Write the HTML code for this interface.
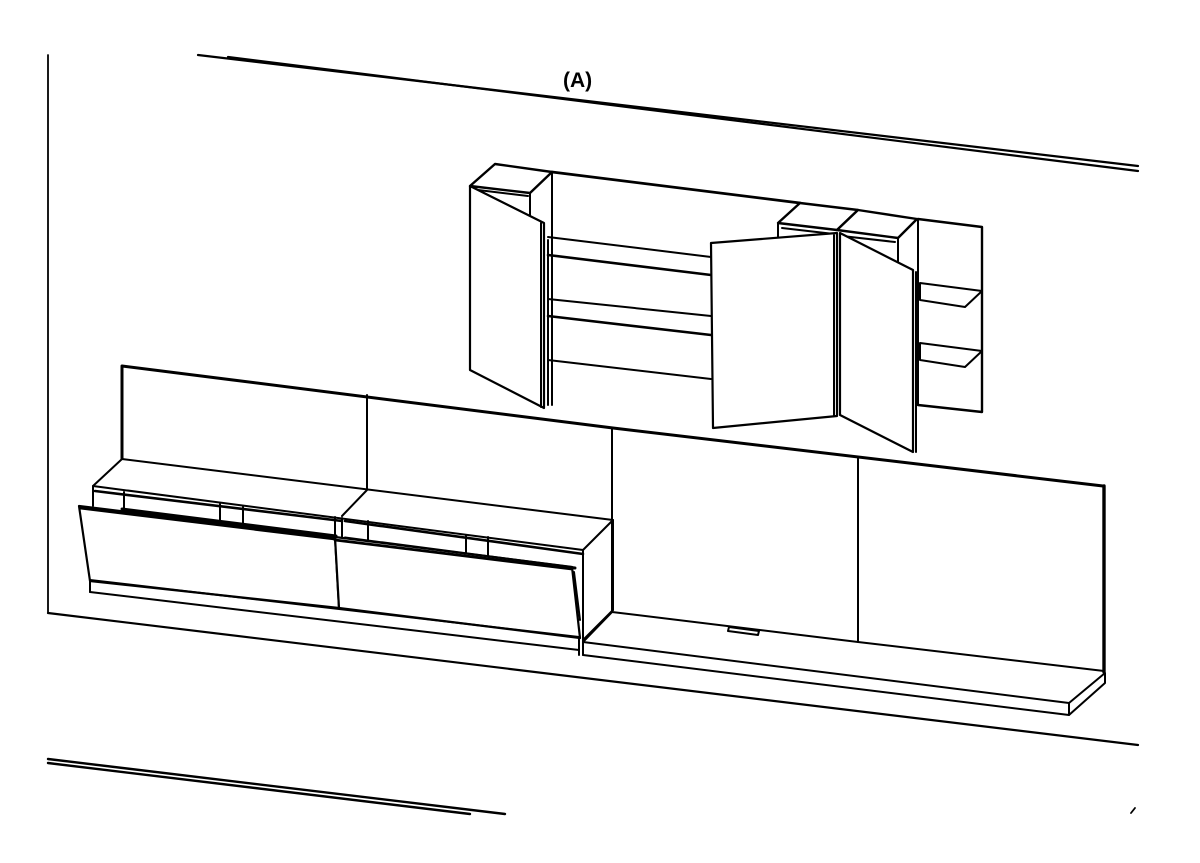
<!DOCTYPE html>
<html><head><meta charset="utf-8"><style>
html,body{margin:0;padding:0;background:#fff;}
svg{display:block;}
</style></head><body>
<svg width="1200" height="863" viewBox="0 0 1200 863" xmlns="http://www.w3.org/2000/svg">
<rect width="1200" height="863" fill="#fff"/>
<g fill="none" stroke="#000" stroke-width="2" stroke-linejoin="round" stroke-linecap="round">
<!-- frame -->
<line x1="48" y1="55" x2="48" y2="612" stroke-width="1.8"/>
<line x1="198" y1="55" x2="1138" y2="166" stroke-width="2.2"/>
<line x1="228" y1="57" x2="1138" y2="171" stroke-width="2.2"/>
<line x1="48" y1="613" x2="1138" y2="745" stroke-width="2.2"/>
<line x1="48" y1="759" x2="505" y2="814" stroke-width="2.4"/>
<line x1="48" y1="763" x2="470" y2="814" stroke-width="2.4"/>
<line x1="1131" y1="813" x2="1135" y2="808" stroke-width="1.8"/>

<!-- upper cabinet back panel -->
<line x1="552" y1="172" x2="800" y2="203" stroke-width="2.8"/>
<polyline points="918,219 982,227 982,412 918,405" stroke-width="2.4"/>
<line x1="918" y1="219" x2="918" y2="405"/>
<!-- left block -->
<polygon points="470,186 495,164 552,172 530,193" fill="#fff" stroke-width="2.4"/>
<line x1="530" y1="193" x2="530" y2="215"/>
<line x1="552" y1="172" x2="552" y2="405"/>
<line x1="548" y1="240" x2="548" y2="405"/>
<line x1="478" y1="190" x2="528" y2="196"/>
<!-- shelves -->
<line x1="548" y1="237" x2="711" y2="257"/>
<line x1="548" y1="255" x2="711" y2="275" stroke-width="2.6"/>
<line x1="548" y1="299" x2="711" y2="316"/>
<line x1="548" y1="316" x2="711" y2="335" stroke-width="2.6"/>
<line x1="548" y1="360" x2="711" y2="379"/>
<!-- left door -->
<polygon points="470,186 544,223 544,408 470,370" fill="#fff" stroke-width="2.2"/>
<line x1="541" y1="223" x2="541" y2="407"/>
<!-- top blocks -->
<polygon points="778,223 800,203 858,210 837,230" fill="#fff" stroke-width="2.4"/>
<polygon points="837,230 858,210 917,219 898,238" fill="#fff" stroke-width="2.4"/>
<line x1="778" y1="223" x2="778" y2="238"/>
<line x1="898" y1="238" x2="898" y2="265"/>
<line x1="782" y1="228" x2="834" y2="234"/>
<line x1="842" y1="236" x2="895" y2="242"/>
<!-- right shelves -->
<polygon points="920,283 982,291 965,307 920,300" fill="#fff"/>
<polygon points="920,343 982,351 965,367 920,360" fill="#fff"/>
<!-- center door -->
<polygon points="711,243 837,233 837,416 713,428" fill="#fff" stroke-width="2.2"/>
<!-- right door -->
<polygon points="840,233 913,270 913,452 840,415" fill="#fff" stroke-width="2.2"/>
<line x1="916" y1="272" x2="916" y2="452"/>
<line x1="834" y1="235" x2="834" y2="416"/>

<!-- lower back panel -->
<polyline points="122,459 122,366 613,428 1103,486" stroke-width="3"/>
<line x1="367" y1="395" x2="367" y2="489"/>
<line x1="612" y1="428" x2="612" y2="612"/>
<line x1="858" y1="458" x2="858" y2="642"/>
<line x1="1104" y1="486" x2="1104" y2="672" stroke-width="3.4"/>
<!-- right base -->
<polyline points="612,612 858,642 1104,671"/>
<line x1="583" y1="642" x2="612" y2="612"/>
<line x1="583" y1="642" x2="1069" y2="703"/>
<line x1="583" y1="655" x2="1069" y2="715"/>
<polyline points="1069,703 1069,715 1105,683 1105,673 1069,703"/>
<polygon points="729,627 759,631 758,635 728,631"/>

<!-- left low unit top -->
<polygon points="122,459 613,520 583,550 93,486" fill="#fff"/>
<line x1="342" y1="516" x2="367" y2="490"/>
<line x1="583" y1="550" x2="583" y2="655"/>
<line x1="613" y1="520" x2="613" y2="610"/>
<line x1="583" y1="640" x2="613" y2="610"/>
<!-- drawer strips -->
<line x1="93" y1="486" x2="93" y2="506"/>
<line x1="95" y1="491" x2="342" y2="521" stroke-width="2.6"/>
<line x1="345" y1="521" x2="583" y2="554" stroke-width="2.6"/>
<line x1="122" y1="509" x2="336" y2="536" stroke-width="3"/>
<line x1="345" y1="538" x2="575" y2="568" stroke-width="3"/>
<line x1="124" y1="492" x2="124" y2="509"/>
<line x1="220" y1="504" x2="220" y2="523"/>
<line x1="243" y1="507" x2="243" y2="526"/>
<line x1="335" y1="517" x2="335" y2="536"/>
<line x1="342" y1="518" x2="342" y2="538"/>
<line x1="368" y1="521" x2="368" y2="540"/>
<line x1="466" y1="535" x2="466" y2="553"/>
<line x1="488" y1="537" x2="488" y2="556"/>
<!-- doors -->
<polygon points="79,506 335,537 339,608 90,581" fill="#fff" stroke-width="2.2"/>
<polygon points="335,537 572,567 580,638 339,608" fill="#fff" stroke-width="2.2"/>
<line x1="574" y1="572" x2="580" y2="620"/>
<line x1="80" y1="508" x2="335" y2="539" stroke-width="2.8"/>
<line x1="335" y1="540" x2="572" y2="569" stroke-width="2.8"/>
<!-- plinth -->
<line x1="90" y1="580" x2="579" y2="637"/>
<line x1="90" y1="592" x2="579" y2="650"/>
<line x1="90" y1="580" x2="90" y2="592"/>
<line x1="579" y1="637" x2="579" y2="655"/>
</g>
<text x="563" y="87" font-family="Liberation Sans, sans-serif" font-weight="bold" font-size="21" fill="#000">(A)</text>
</svg>
</body></html>
